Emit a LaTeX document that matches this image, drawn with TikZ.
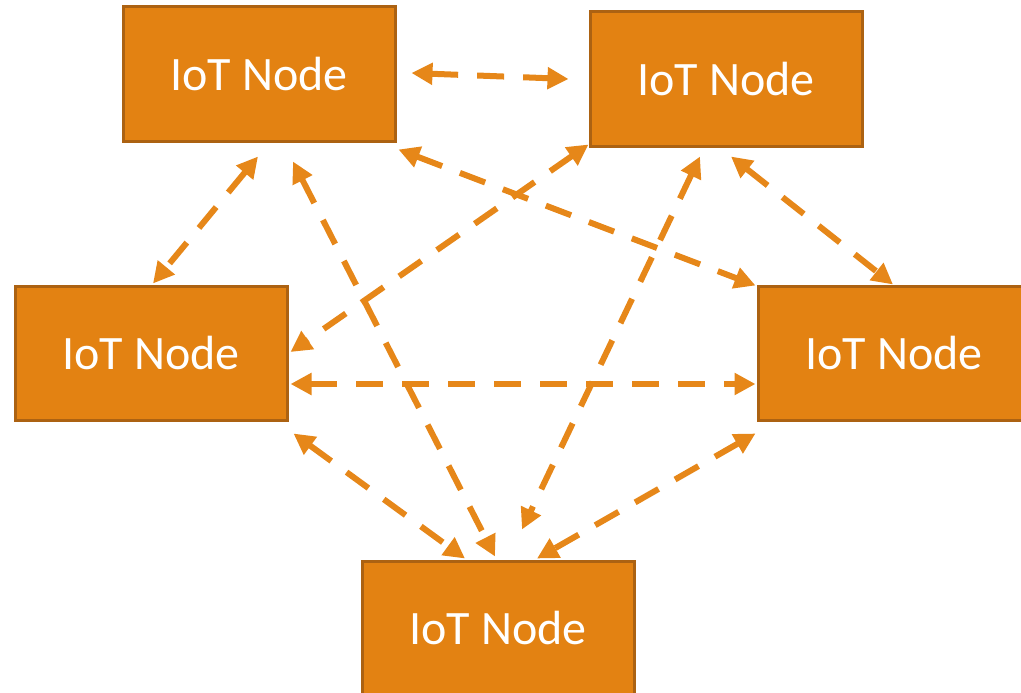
\documentclass[tikz,border=0pt]{standalone}
\usepackage{fontspec}
\setmainfont{Carlito}
\usetikzlibrary{arrows.meta,calc}
\definecolor{iotfill}{RGB}{227,130,18}
\definecolor{iotborder}{RGB}{172,98,18}
\definecolor{iotarrow}{RGB}{230,135,25}
\tikzset{
  iotbox/.style={draw=iotborder, line width=3pt, fill=iotfill, minimum width=272pt, minimum height=134pt, inner sep=0pt, text=white, font=\fontsize{48}{56}\selectfont},
  link/.style={draw=iotarrow, line width=6pt, dash pattern=on 27pt off 19pt, {Triangle[length=21pt,width=21pt]}-{Triangle[length=21pt,width=21pt]}}
}
\begin{document}
\begin{tikzpicture}[x=1pt,y=-1pt]
\useasboundingbox (0,0) rectangle (1021,693);
\clip (0,0) rectangle (1021,693);
\node[iotbox] (A) at (259,74) {IoT Node};
\node[iotbox] (B) at (726,79) {IoT Node};
\node[iotbox] (C) at (151,353) {IoT Node};
\node[iotbox] (D) at (894,353) {IoT Node};
\node[iotbox] (E) at (498,628) {IoT Node};
\draw[link] ($(A.east)+(15,-1)$) -- ($(B.west)+(-20,0)$);
\draw[link] ($(A.south)+(-1,14)$) -- ($(C.north)+(2,-1)$);
\draw[link] ($(A.south east)+(2,7)$) -- ($(D.north west)+(-1,1)$);
\draw[link] ($(A.south)+(34,19)$) -- ($(E.north)+(-3,-3)$);
\draw[link] ($(B.south west)+(0,-3)$) -- ($(C.east)+(2,-1)$);
\draw[link] ($(B.south)+(5,9)$) -- ($(D.north)+(-1,0)$);
\draw[link] ($(B.south)+(-26,9)$) -- ($(E.north)+(24,-30)$);
\draw[link] ($(C.east)+(2,31)$) -- ($(D.west)+(-1,31)$);
\draw[link] ($(C.south east)+(5,12)$) -- ($(E.north)+(-33,-1)$);
\draw[link] ($(D.south west)+(-1,12)$) -- ($(E.north)+(39,-1)$);
\end{tikzpicture}
\end{document}
